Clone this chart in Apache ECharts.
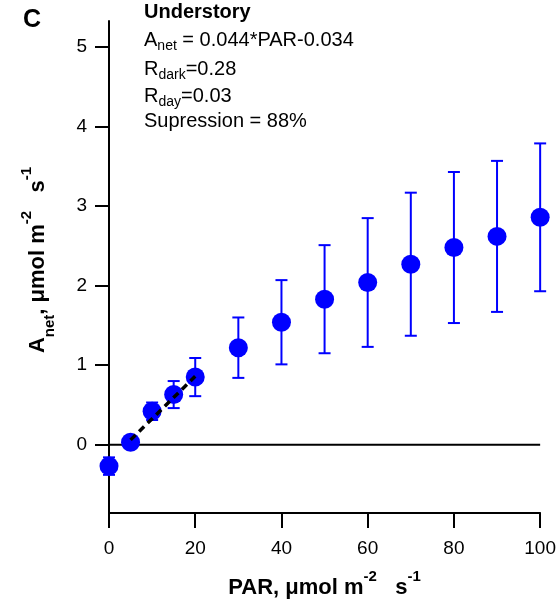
<!DOCTYPE html>
<html><head><meta charset="utf-8">
<script src="https://cdn.jsdelivr.net/npm/echarts@6/dist/echarts.min.js"></script>
<style>html,body{margin:0;padding:0;background:#fff}#c{width:559px;height:604px}</style>
</head><body><div id="c"></div>
<script>
// ---- data ----
const parValues  = [0, 5, 10, 15, 20, 30, 40, 50, 60, 70, 80, 90, 100];
const anetValues = [-0.27, 0.03, 0.42, 0.63, 0.85, 1.22, 1.54, 1.83, 2.04, 2.27, 2.48, 2.62, 2.86];
const anetErrors = [0.11, 0.05, 0.11, 0.17, 0.24, 0.38, 0.53, 0.68, 0.81, 0.90, 0.95, 0.95, 0.93];
const fitPar  = [5, 20];
const fitAnet = [0.06, 0.86];
const zeroPar = [0, 100];
const zeroVal = [0, 0];
const xTicks = [0, 20, 40, 60, 80, 100];
const yTicks = [0, 1, 2, 3, 4, 5];
const panelLabel = 'C';
const noteLines = [
  '{h|Understory}',
  '{t|A}{s|net}{t| = 0.044*PAR-0.034}',
  '{t|R}{s|dark}{t|=0.28}',
  '{t|R}{s|day}{t|=0.03}',
  '{t|Supression = 88%}'
];

const BLUE = '#0000ff';
const FONT = 'Liberation Sans, Arial, Helvetica, sans-serif';

const points = parValues.map((x, i) => [x, anetValues[i]]);
const bars = parValues.map((x, i) => [x, anetValues[i] - anetErrors[i], anetValues[i] + anetErrors[i]]);
const fitLine = fitPar.map((x, i) => [x, fitAnet[i]]);
const zeroLine = zeroPar.map((x, i) => [x, zeroVal[i]]);

const titleRich = {
  b: {fontFamily: FONT, fontWeight: 'bold', fontSize: 22, lineHeight: 38, color: '#000'},
  sup: {fontFamily: FONT, fontWeight: 'bold', fontSize: 15, lineHeight: 10, verticalAlign: 'top', color: '#000'},
  sub: {fontFamily: FONT, fontWeight: 'bold', fontSize: 15, lineHeight: 12, verticalAlign: 'bottom', color: '#000'}
};
const noteRich = {
  h: {fontFamily: FONT, fontWeight: 'bold', fontSize: 20, lineHeight: 24, color: '#000'},
  t: {fontFamily: FONT, fontSize: 20, lineHeight: 26, color: '#000'},
  s: {fontFamily: FONT, fontSize: 14, lineHeight: 12, verticalAlign: 'bottom', color: '#000'}
};
const noteTops = [2, 30, 59, 86, 111];

const chart = echarts.init(document.getElementById('c'), null, {renderer: 'canvas'});
chart.setOption({
  animation: false,
  backgroundColor: '#fff',
  grid: {left: 109, right: 18, top: 21, bottom: 91, containLabel: false},
  xAxis: {
    type: 'value', min: 0, max: 100, interval: 20,
    axisLine: {onZero: false, lineStyle: {color: '#000', width: 2}},
    axisTick: {show: true, length: 15, lineStyle: {color: '#000', width: 2}},
    axisLabel: {color: '#000', fontFamily: FONT, fontSize: 19, margin: 26, customValues: xTicks},
    splitLine: {show: false},
    name: '{b|PAR, μmol m}{sup|-2}{b|   s}{sup|-1}',
    nameLocation: 'middle', nameGap: 56,
    nameTextStyle: {rich: titleRich}
  },
  yAxis: {
    type: 'value', min: -0.86, max: 5.33,
    axisLine: {onZero: false, lineStyle: {color: '#000', width: 2}},
    axisTick: {show: true, length: 14, lineStyle: {color: '#000', width: 2}, customValues: yTicks},
    axisLabel: {color: '#000', fontFamily: FONT, fontSize: 19, margin: 22, customValues: yTicks},
    splitLine: {show: false},
    name: '{b|A}{sub|net}{b|, μmol m}{sup|-2}{b|   s}{sup|-1}',
    nameLocation: 'middle', nameRotate: 90, nameGap: 52,
    nameTextStyle: {rich: titleRich, padding: [0, 0, 0, 14]}
  },
  graphic: [
    {type: 'text', left: 23, top: 8, style: {text: panelLabel, font: 'bold 25px ' + FONT, fill: '#000'}}
  ].concat(noteLines.map((t, i) => ({
    type: 'text', left: 144, top: noteTops[i], style: {text: t, rich: noteRich, fill: '#000'}
  }))),
  series: [
    {
      type: 'line', data: zeroLine, symbol: 'none', z: 1, silent: true,
      lineStyle: {color: '#000', width: 2}
    },
    {
      type: 'custom', data: bars, z: 2, clip: false, silent: true,
      encode: {x: 0, y: [1, 2]},
      renderItem: function (params, api) {
        const x = api.value(0);
        const lo = api.coord([x, api.value(1)]);
        const hi = api.coord([x, api.value(2)]);
        const w = 6;
        const st = {stroke: BLUE, lineWidth: 2};
        return {type: 'group', children: [
          {type: 'line', shape: {x1: lo[0], y1: lo[1], x2: hi[0], y2: hi[1]}, style: st},
          {type: 'line', shape: {x1: lo[0] - w, y1: lo[1], x2: lo[0] + w, y2: lo[1]}, style: st},
          {type: 'line', shape: {x1: hi[0] - w, y1: hi[1], x2: hi[0] + w, y2: hi[1]}, style: st}
        ]};
      }
    },
    {
      type: 'scatter', data: points, symbol: 'circle', symbolSize: 19, z: 3, clip: false,
      itemStyle: {color: BLUE, opacity: 1}
    },
    {
      type: 'line', data: fitLine, symbol: 'none', z: 4, silent: true,
      lineStyle: {color: '#000', width: 3.5, type: [7, 5]}
    }
  ]
});
</script>
</body></html>
